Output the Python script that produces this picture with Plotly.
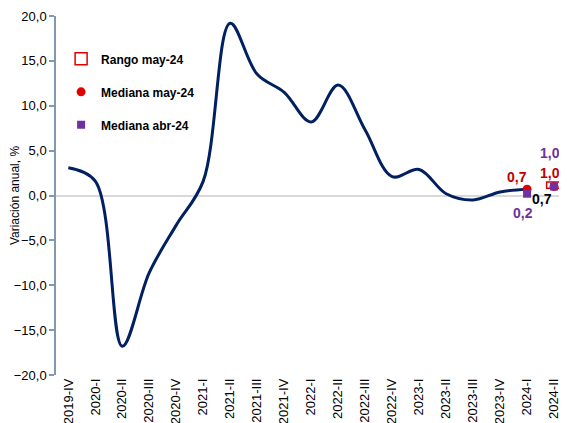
import plotly.graph_objects as go

# ---------------- data ----------------
categories = ["2019-IV", "2020-I", "2020-II", "2020-III", "2020-IV",
              "2021-I", "2021-II", "2021-III", "2021-IV",
              "2022-I", "2022-II", "2022-III", "2022-IV",
              "2023-I", "2023-II", "2023-III", "2023-IV",
              "2024-I", "2024-II"]

observed = [3.1, 1.6, -16.8, -8.6, -3.3,
            1.6, 19.2, 13.5, 11.5,
            8.2, 12.3, 7.3, 2.1,
            2.9, 0.2, -0.5, 0.4,
            0.7]

median_cats = ["2024-I", "2024-II"]
median_may = [0.7, 1.0]
median_abr = [0.2, 1.0]

range_cats = ["2024-II"]
range_low = [0.8]
range_high = [1.5]

y_ticks = [20, 15, 10, 5, 0, -5, -10, -15, -20]


def fmt(v):
    return f"{v:.1f}".replace(".", ",")


FONT = "Arial, Liberation Sans, sans-serif"
NAVY = "#002060"
RED = "#E00000"
DARKRED = "#C00000"
PURPLE = "#7030A0"

fig = go.Figure()

fig.add_trace(go.Scatter(
    x=categories[:len(observed)], y=observed, mode="lines",
    line=dict(color=NAVY, width=3, shape="spline", smoothing=1.0),
    showlegend=False, hoverinfo="skip"))

fig.add_trace(go.Bar(
    x=range_cats, y=[h - l for h, l in zip(range_high, range_low)], base=range_low,
    width=0.55, marker=dict(color="white", line=dict(color=RED, width=1.5)),
    name="<b>Rango may-24</b>", legendgroup="a"))

fig.add_trace(go.Scatter(
    x=median_cats, y=median_may, mode="markers",
    marker=dict(color=RED, size=9, symbol="circle"),
    name="<b>Mediana may-24</b>", legendgroup="b"))

fig.add_trace(go.Scatter(
    x=median_cats, y=median_abr, mode="markers",
    marker=dict(color=PURPLE, size=8, symbol="square"),
    name="<b>Mediana abr-24</b>", legendgroup="c"))

annotations = []
# label offsets (pixels) for the value labels
may_shift = [(-10, 12), (-4, 14)]
abr_shift = [(-4, -19), (-4, 34)]
for c, v, (dx, dy) in zip(median_cats, median_may, may_shift):
    annotations.append(dict(x=c, y=v, xref="x", yref="y", text=f"<b>{fmt(v)}</b>",
                            showarrow=False, xshift=dx, yshift=dy,
                            font=dict(family=FONT, size=14, color=DARKRED)))
for c, v, (dx, dy) in zip(median_cats, median_abr, abr_shift):
    annotations.append(dict(x=c, y=v, xref="x", yref="y", text=f"<b>{fmt(v)}</b>",
                            showarrow=False, xshift=dx, yshift=dy,
                            font=dict(family=FONT, size=14, color=PURPLE)))
last_i = len(observed) - 1
annotations.append(dict(x=categories[last_i], y=observed[last_i], xref="x", yref="y",
                        text=f"<b>{fmt(observed[last_i])}</b>", showarrow=False,
                        xshift=15, yshift=-10,
                        font=dict(family=FONT, size=14, color="black")))

# the page body adds an 8px margin, so the figure is kept inside the window
fig.update_layout(
    width=559, height=415,
    margin=dict(l=48, r=0, t=8, b=48),
    paper_bgcolor="white", plot_bgcolor="white",
    separators=",.",
    font=dict(family=FONT, size=12, color="black"),
    barmode="overlay",
    showlegend=True,
    legend=dict(x=0.01, y=0.921, xanchor="left", yanchor="top",
                bgcolor="rgba(0,0,0,0)", tracegroupgap=14,
                font=dict(family=FONT, size=12, color="black")),
    annotations=annotations,
)

fig.update_xaxes(
    type="category", categoryorder="array", categoryarray=categories,
    tickvals=categories, ticktext=categories,
    range=[-0.456, 18.48], automargin=False,
    tickangle=-90, showline=False, ticks="", showgrid=False, zeroline=False,
    tickfont=dict(family=FONT, size=13, color="black"))

fig.update_yaxes(
    range=[-20, 20], tickvals=y_ticks, tickformat=".1f", automargin=False,
    showline=True, linecolor="#8497B0", linewidth=1.5,
    ticks="outside", ticklen=5, tickcolor="#8497B0", tickwidth=1.5,
    showgrid=False, zeroline=True, zerolinecolor="#D9D9D9", zerolinewidth=1.5,
    tickfont=dict(family=FONT, size=13, color="black"),
    title=dict(text="Variación anual, %", standoff=0,
               font=dict(family=FONT, size=12, color="black")))

fig.write_html("out.html")
